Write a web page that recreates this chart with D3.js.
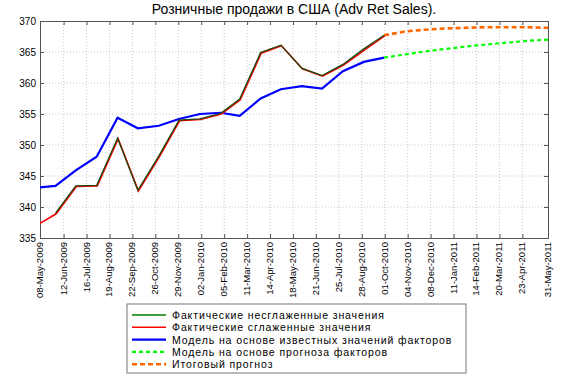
<!DOCTYPE html>
<html>
<head>
<meta charset="utf-8">
<script src="https://cdn.jsdelivr.net/npm/d3@7"></script>
<style>
  body { margin: 0; background: #fff; }
  svg { font-family: "Liberation Sans", Arial, sans-serif; }
</style>
</head>
<body>
<div id="chart"></div>
<script>
// tick labels on the date axis
const tickLabels = ["08-May-2009", "12-Jun-2009", "16-Jul-2009", "19-Aug-2009", "22-Sep-2009",
    "26-Oct-2009", "29-Nov-2009", "02-Jan-2010", "05-Feb-2010", "11-Mar-2010", "14-Apr-2010",
    "18-May-2010", "21-Jun-2010", "25-Jul-2010", "28-Aug-2010", "01-Oct-2010", "04-Nov-2010",
    "08-Dec-2010", "11-Jan-2011", "14-Feb-2011", "20-Mar-2011", "23-Apr-2011", "31-May-2011"];
const yTicks = [335, 340, 345, 350, 355, 360, 365, 370];

// month-end dates of the observations
const histMonths = ["2009-04-30", "2009-05-31", "2009-06-30", "2009-07-31", "2009-08-31", "2009-09-30",
    "2009-10-31", "2009-11-30", "2009-12-31", "2010-01-31", "2010-02-28", "2010-03-31",
    "2010-04-30", "2010-05-31", "2010-06-30", "2010-07-31", "2010-08-31", "2010-09-30"];
const fcMonths = ["2010-09-30", "2010-10-31", "2010-11-30", "2010-12-31", "2011-01-31",
    "2011-02-28", "2011-03-31", "2011-04-30", "2011-05-31"];

// series
const rawActual = [null, 339.0, 343.4, 343.5, 351.1, 342.7, 348.2, 354.0, 354.2, 355.1, 357.4,
    364.9, 366.1, 362.4, 361.2, 363.0, 365.5, 367.7];
const smoothActual = [337.0, 339.0, 343.4, 343.5, 351.1, 342.7, 348.2, 354.0, 354.2, 355.1, 357.4,
    364.9, 366.1, 362.4, 361.2, 363.0, 365.4, 367.7];
const modelKnown = [343.1, 343.4, 345.9, 348.1, 354.4, 352.7, 353.1, 354.2, 355.0, 355.2, 354.7,
    357.5, 359.0, 359.5, 359.1, 361.9, 363.4, 364.1];
const modelForecast = [364.1, 364.6, 365.1, 365.5, 365.9, 366.2, 366.5, 366.8, 367.0];
const finalForecast = [367.7, 368.3, 368.6, 368.8, 368.9, 369.0, 369.0, 369.0, 368.9];

const legendLabels = ["Фактические несглаженные значения", "Фактические сглаженные значения",
    "Модель на основе известных значений факторов", "Модель на основе прогноза факторов",
    "Итоговый прогноз"];

const parseIso = d3.timeParse("%Y-%m-%d");
const parseTick = d3.timeParse("%d-%b-%Y");
const tickDates = tickLabels.map(parseTick);

const width = 569, height = 378;
const margin = {top: 21, right: 21, bottom: 140, left: 40};
const innerW = width - margin.left - margin.right;
const innerH = height - margin.top - margin.bottom;

const svg = d3.select("#chart").append("svg")
    .attr("width", width)
    .attr("height", height);

const g = svg.append("g")
    .attr("transform", `translate(${margin.left},${margin.top})`);

const x = d3.scaleTime()
    .domain([tickDates[0], tickDates[tickDates.length - 1]])
    .range([0, innerW]);
const y = d3.scaleLinear()
    .domain([335, 370])
    .range([innerH, 0]);

// title
svg.append("text")
    .attr("x", margin.left + innerW / 2)
    .attr("y", 14)
    .attr("text-anchor", "middle")
    .style("font-size", "14px")
    .text("Розничные продажи в США (Adv Ret Sales).");

// grid
g.append("g").selectAll("line")
    .data(tickDates.slice(1, -1))
    .join("line")
    .attr("x1", d => x(d)).attr("x2", d => x(d))
    .attr("y1", 0).attr("y2", innerH)
    .attr("stroke", "#c8c8c8").attr("stroke-dasharray", "1,2");
g.append("g").selectAll("line")
    .data(yTicks.slice(1, -1))
    .join("line")
    .attr("x1", 0).attr("x2", innerW)
    .attr("y1", d => y(d)).attr("y2", d => y(d))
    .attr("stroke", "#c8c8c8").attr("stroke-dasharray", "1,2");

// axes (ticks pointing inward, box around)
const xAxisB = g.append("g")
    .attr("transform", `translate(0,${innerH})`)
    .call(d3.axisTop(x).tickValues(tickDates).tickSize(4).tickFormat(""));
const xAxisT = g.append("g")
    .call(d3.axisBottom(x).tickValues(tickDates).tickSize(4).tickFormat(""));
const yAxisL = g.append("g")
    .call(d3.axisRight(y).tickValues(yTicks).tickSize(4).tickFormat(""));
const yAxisR = g.append("g")
    .attr("transform", `translate(${innerW},0)`)
    .call(d3.axisLeft(y).tickValues(yTicks).tickSize(4).tickFormat(""));
[xAxisB, xAxisT, yAxisL, yAxisR].forEach(a => {
    a.selectAll("path").attr("stroke", "#555");
    a.selectAll("line").attr("stroke", "#555");
});

// y labels
g.append("g").selectAll("text")
    .data(yTicks)
    .join("text")
    .attr("x", -4)
    .attr("y", d => y(d) + 4)
    .attr("text-anchor", "end")
    .style("font-size", "10px")
    .text(d => d);

// x labels, rotated
g.append("g").selectAll("text")
    .data(tickDates)
    .join("text")
    .attr("transform", (d, i) => `translate(${x(d) + 3},${innerH + 4}) rotate(-90)`)
    .attr("text-anchor", "end")
    .style("font-size", "9.5px")
    .text((d, i) => tickLabels[i]);

// lines
g.append("clipPath").attr("id", "clip")
    .append("rect").attr("width", innerW).attr("height", innerH);
const plot = g.append("g").attr("clip-path", "url(#clip)");

function series(dates, vals) {
    return dates.map((d, i) => ({date: parseIso(d), v: vals[i]})).filter(p => p.v != null);
}
const line = d3.line().x(p => x(p.date)).y(p => y(p.v));

plot.append("path")
    .datum(series(histMonths, modelKnown))
    .attr("fill", "none").attr("stroke", "#0000ff").attr("stroke-width", 2.2)
    .attr("d", line);
plot.append("path")
    .datum(series(fcMonths, modelForecast))
    .attr("fill", "none").attr("stroke", "#00ff00").attr("stroke-width", 2.2)
    .attr("stroke-dasharray", "4,3")
    .attr("d", line);
plot.append("path")
    .datum(series(fcMonths, finalForecast))
    .attr("fill", "none").attr("stroke", "#ff6600").attr("stroke-width", 2.6)
    .attr("stroke-dasharray", "5,3")
    .attr("d", line);
plot.append("path")
    .datum(series(histMonths, smoothActual))
    .attr("fill", "none").attr("stroke", "#ff0000").attr("stroke-width", 1.6)
    .attr("transform", "translate(0.6,0.6)")
    .attr("d", line);
plot.append("path")
    .datum(series(histMonths, rawActual))
    .attr("fill", "none").attr("stroke", "#1a4a10").attr("stroke-width", 1.3)
    .attr("d", line);

// legend
const legendStyles = [
    {color: "#008000", w: 1.3, dash: null},
    {color: "#ff0000", w: 1.6, dash: null},
    {color: "#0000ff", w: 2.2, dash: null},
    {color: "#00ff00", w: 2.2, dash: "4,3"},
    {color: "#ff6600", w: 2.6, dash: "5,3"}
];
const legend = svg.append("g").attr("transform", "translate(127,304)");
legend.append("rect")
    .attr("width", 339).attr("height", 69)
    .attr("fill", "#fff").attr("stroke", "#777");
const rows = legend.selectAll("g.row")
    .data(legendLabels)
    .join("g")
    .attr("class", "row")
    .attr("transform", (d, i) => `translate(0,${11 + i * 12.3})`);
rows.append("line")
    .attr("x1", 5).attr("x2", 39)
    .attr("stroke", (d, i) => legendStyles[i].color)
    .attr("stroke-width", (d, i) => legendStyles[i].w)
    .attr("stroke-dasharray", (d, i) => legendStyles[i].dash);
rows.append("text")
    .attr("x", 45).attr("y", 4)
    .style("font-size", "10.5px")
    .style("letter-spacing", "0.9px")
    .text(d => d);
</script>
</body>
</html>
